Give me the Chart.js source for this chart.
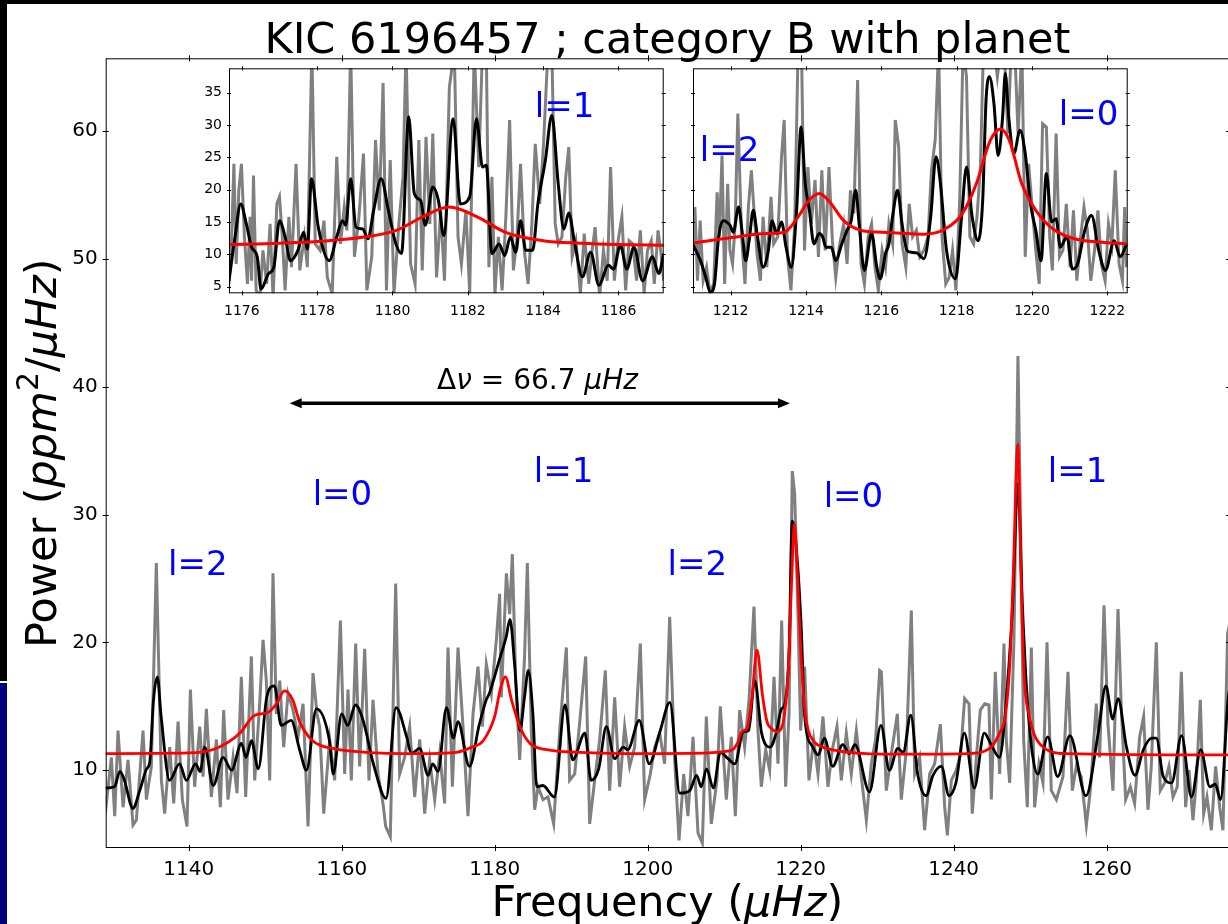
<!DOCTYPE html>
<html>
<head>
<meta charset="utf-8">
<script src="https://cdn.jsdelivr.net/npm/chart.js@4"></script>
<style>
html, body { margin: 0; padding: 0; background: #fff; overflow: hidden; width: 1228px; height: 924px; }
canvas { position: absolute; }
#main { left: 0; top: 0; }
#inset1 { left: 180px; top: 60px; }
#inset2 { left: 680px; top: 60px; }
.frame { position: absolute; z-index: 5; }
</style>
</head>
<body>
<canvas id="main" width="1232" height="924"></canvas>
<canvas id="inset1" width="500" height="268"></canvas>
<canvas id="inset2" width="470" height="268"></canvas>
<div class="frame" style="left:0;top:0;width:1228px;height:4px;background:#000"></div>
<div class="frame" style="left:0;top:0;width:7px;height:681px;background:#000"></div>
<div class="frame" style="left:0;top:683px;width:7px;height:241px;background:#00007f"></div>
<script>
// ---- data (frequency in uHz, power in ppm^2/uHz) ----
const chartTitle = 'KIC 6196457 ; category B with planet';
const mainXRange = [1129.15, 1276.0];
const mainYRange = [3.91, 65.7];
const mainXTicks = [1140, 1160, 1180, 1200, 1220, 1240, 1260];
const mainYTicks = [10, 20, 30, 40, 50, 60];

// raw power spectrum (grey)
const mainGray = [
  [1129.1,8.0],[1129.24,7.4],[1129.89,11.0],[1130.33,6.4],[1130.76,13.1],[1131.42,7.1],[1132.07,10.8],[1132.72,5.7],[1133.16,6.1],
  [1134.03,13.1],[1134.47,7.7],[1135.12,10.3],[1135.77,26.2],[1136.43,9.2],[1136.86,6.6],[1137.52,11.8],[1138.04,7.4],[1138.61,13.8],
  [1139.17,7.7],[1139.78,5.6],[1140.22,16.3],[1140.78,8.7],[1141.44,13.4],[1141.87,9.5],[1142.31,14.8],[1142.96,7.9],[1143.62,12.4],
  [1144.14,7.1],[1144.57,14.7],[1145.14,7.7],[1145.80,11.0],[1146.32,8.2],[1146.88,17.3],[1147.45,7.9],[1148.19,18.9],[1148.63,9.2],
  [1149.28,15.2],[1149.72,20.2],[1150.15,17.0],[1150.59,9.2],[1151.02,25.4],[1151.46,14.4],[1151.90,17.0],[1152.42,11.8],[1152.98,16.0],
  [1153.64,14.7],[1154.29,12.6],[1154.95,15.2],[1155.60,5.6],[1156.25,17.6],[1156.78,14.4],[1157.12,13.4],[1157.65,6.6],[1158.43,12.4],
  [1159.08,9.2],[1159.83,21.7],[1160.39,9.7],[1160.83,16.3],[1161.26,9.2],[1161.83,19.9],[1162.35,10.3],[1163.01,19.5],[1163.57,9.2],
  [1164.10,15.5],[1164.75,9.7],[1165.40,7.4],[1165.75,5.6],[1166.36,4.8],[1167.06,24.6],[1167.58,9.7],[1168.23,11.0],[1168.89,13.4],
  [1169.54,7.9],[1170.20,12.4],[1170.85,6.6],[1171.50,10.8],[1172.16,7.7],[1172.81,11.3],[1173.46,7.4],[1173.90,19.6],[1174.47,8.7],
  [1175.21,19.6],[1175.86,13.4],[1176.51,6.4],[1177.17,14.4],[1177.82,18.1],[1178.39,13.4],[1178.91,18.3],[1179.57,16.0],[1180.22,20.2],
  [1180.65,23.8],[1180.87,15.7],[1181.53,25.4],[1181.96,22.2],[1182.31,26.9],[1182.75,17.0],[1183.27,10.8],[1183.92,19.1],[1184.27,26.2],
  [1184.79,13.1],[1185.23,6.9],[1185.67,8.7],[1186.32,7.7],[1186.97,7.9],[1187.71,5.8],[1188.50,13.1],[1189.37,19.6],[1189.80,9.2],
  [1190.46,9.7],[1191.11,13.7],[1191.90,18.9],[1192.42,5.8],[1193.07,9.2],[1193.73,12.4],[1194.47,17.8],[1195.03,8.4],[1195.69,15.7],
  [1196.34,8.7],[1196.99,13.4],[1197.65,10.3],[1198.30,11.8],[1199.04,19.9],[1199.61,7.7],[1200.35,9.7],[1200.92,11.8],[1201.57,12.9],
  [1202.22,10.5],[1202.88,22.0],[1203.53,10.8],[1204.10,4.5],[1204.71,9.7],[1205.27,6.4],[1205.93,12.6],[1206.58,5.1],[1207.15,4.3],
  [1207.67,14.2],[1208.32,5.8],[1209.06,9.2],[1209.50,15.0],[1210.28,7.7],[1210.94,12.6],[1211.46,6.4],[1212.03,14.7],[1212.68,11.8],
  [1213.25,15.5],[1213.90,22.8],[1214.42,13.1],[1214.86,8.7],[1215.43,11.6],[1215.95,10.0],[1216.52,17.3],[1217.04,10.5],[1217.52,21.7],
  [1218.04,8.7],[1218.48,14.4],[1218.91,33.4],[1219.22,31.6],[1219.65,22.2],[1220.00,13.1],[1220.52,18.1],[1221.09,9.2],[1221.70,12.4],
  [1222.27,9.7],[1222.92,14.2],[1223.57,8.7],[1224.14,11.6],[1224.75,13.4],[1225.32,9.2],[1225.97,12.9],[1226.62,9.7],[1227.28,13.1],
  [1227.93,9.5],[1228.59,6.1],[1229.24,10.5],[1229.80,12.4],[1230.33,17.8],[1230.55,17.7],[1231.20,8.4],[1231.86,11.3],[1232.64,14.4],
  [1233.16,7.7],[1233.82,11.6],[1234.47,22.5],[1234.91,9.7],[1235.56,11.0],[1236.21,5.3],[1236.87,9.7],[1237.52,10.5],[1238.26,13.6],
  [1238.83,7.1],[1239.18,4.9],[1239.70,9.2],[1240.35,10.0],[1240.92,11.3],[1241.44,15.6],[1242.01,15.2],[1242.44,6.6],[1242.97,11.0],
  [1243.49,14.7],[1244.06,15.2],[1244.62,15.1],[1244.93,7.7],[1245.45,17.7],[1246.02,9.7],[1246.58,19.9],[1246.89,12.3],[1247.33,9.0],
  [1247.89,20.2],[1248.41,42.4],[1248.85,25.4],[1249.16,12.3],[1249.63,7.1],[1250.16,19.6],[1250.59,7.1],[1251.16,10.5],[1251.68,9.0],
  [1252.21,20.0],[1252.77,8.4],[1253.43,7.7],[1254.30,9.5],[1254.95,17.7],[1255.52,8.4],[1256.04,10.3],[1256.69,9.5],[1257.35,5.7],
  [1257.87,8.4],[1258.65,15.2],[1259.09,11.0],[1259.66,22.9],[1260.18,13.6],[1260.83,8.4],[1261.49,22.6],[1261.92,14.9],[1262.49,7.7],
  [1263.10,8.7],[1263.66,7.4],[1264.32,12.6],[1264.84,14.2],[1265.41,6.9],[1265.84,10.3],[1266.50,20.0],[1267.02,8.4],[1267.59,9.0],
  [1268.15,10.3],[1268.68,7.9],[1269.24,8.7],[1269.77,17.7],[1270.33,7.1],[1270.77,10.0],[1271.29,6.1],[1271.73,9.2],[1272.25,15.5],
  [1272.69,6.6],[1273.12,7.9],[1273.69,5.3],[1274.25,10.3],[1274.78,7.1],[1275.21,5.3],[1275.82,20.7],[1276.3,22.0]
];

// smoothed spectrum (black)
const mainSmooth = [
  [1129.1,8.6],[1130.3,8.7],[1131.0,9.9],[1131.6,9.2],[1132.7,7.0],[1133.6,8.4],[1134.5,10.1],[1134.9,10.6],[1135.4,15.5],[1135.9,17.3],
  [1136.4,14.2],[1137.5,9.2],[1138.8,10.5],[1139.7,9.2],[1140.9,10.5],[1141.5,9.9],[1142.1,11.8],[1143.2,8.8],[1144.5,11.0],[1145.6,10.0],
  [1146.9,12.1],[1147.5,11.0],[1148.2,12.3],[1149.1,10.1],[1150.2,15.7],[1151.2,16.6],[1152.1,13.5],[1153.4,13.9],[1154.5,11.6],[1155.4,10.0],
  [1156.7,14.8],[1158.4,12.3],[1158.9,9.7],[1160.0,14.4],[1160.8,13.5],[1161.8,15.1],[1162.8,13.9],[1164.1,10.6],[1165.8,7.8],[1167.1,14.9],
  [1168.5,12.6],[1169.1,11.3],[1170.2,11.7],[1171.3,9.6],[1171.9,10.5],[1172.6,9.9],[1173.7,14.9],[1174.6,12.5],[1175.2,13.8],[1176.7,10.3],
  [1178.0,13.6],[1178.9,15.5],[1179.3,16.0],[1180.7,18.8],[1181.5,20.4],[1182.0,21.8],[1182.6,18.3],[1183.3,13.1],[1183.9,15.7],[1184.4,17.8],
  [1185.0,14.4],[1185.5,8.7],[1186.3,8.8],[1187.8,7.9],[1189.2,15.1],[1190.2,10.8],[1191.8,12.9],[1192.6,9.2],[1193.6,10.1],[1194.6,13.4],
  [1195.7,10.9],[1196.8,11.8],[1197.4,11.6],[1198.9,13.9],[1200.2,10.5],[1201.6,13.0],[1202.9,15.3],[1204.2,8.2],[1205.5,8.4],[1206.4,9.6],
  [1207.0,8.7],[1207.7,10.1],[1208.6,8.6],[1209.5,11.4],[1210.5,10.9],[1211.4,10.5],[1212.5,13.0],[1213.2,13.1],[1214.0,17.0],[1214.9,12.9],
  [1216.0,11.8],[1216.8,12.9],[1217.5,14.8],[1217.9,15.1],[1218.5,19.6],[1218.9,29.5],[1219.5,26.9],[1220.1,20.9],[1220.5,14.4],[1221.6,11.8],
  [1222.3,11.2],[1223.1,12.5],[1224.2,10.3],[1225.5,12.0],[1226.4,11.3],[1227.1,12.0],[1229.0,8.3],[1230.5,13.5],[1231.6,10.0],[1232.7,11.7],
  [1233.4,11.4],[1234.4,14.3],[1235.3,9.7],[1236.4,8.0],[1237.3,9.6],[1238.4,10.3],[1239.4,8.0],[1240.3,9.0],[1241.4,12.9],[1242.7,8.6],
  [1244.0,12.9],[1244.9,12.0],[1246.0,11.0],[1246.8,14.9],[1247.7,22.8],[1248.4,32.4],[1249.0,22.8],[1249.7,14.9],[1251.0,9.7],[1252.3,12.6],
  [1253.6,9.5],[1255.2,12.7],[1257.3,8.0],[1258.9,12.9],[1259.9,16.6],[1260.8,14.0],[1261.5,15.6],[1262.6,11.8],[1263.7,9.6],[1264.8,11.6],
  [1265.9,12.5],[1266.5,12.5],[1267.4,9.5],[1268.5,9.0],[1269.8,12.7],[1271.1,7.9],[1272.3,11.6],[1273.5,8.7],[1274.2,8.9],[1274.9,7.7],
  [1275.9,15.7],[1276.3,17.0]
];

// fitted model (red)
const mainFit = [
  [1129.1,11.3],[1140.0,11.35],[1143.6,11.7],[1146.7,12.9],[1148.4,14.2],[1149.3,14.4],[1150.3,14.5],[1151.5,15.2],[1152.5,16.2],[1153.6,15.5],
  [1154.5,13.8],[1156.2,12.3],[1158.8,11.7],[1163.1,11.4],[1170.0,11.3],[1175.0,11.4],[1177.0,11.8],[1178.5,12.3],[1180.0,14.2],[1180.7,16.25],
  [1181.4,17.3],[1182.2,15.5],[1183.3,13.4],[1184.6,12.1],[1186.8,11.6],[1191.1,11.4],[1200.0,11.3],[1208.0,11.35],[1210.0,11.45],[1211.1,11.6],
  [1211.8,12.2],[1212.3,13.0],[1213.0,13.3],[1213.6,15.5],[1214.3,19.4],[1215.0,15.9],[1215.6,13.8],[1216.3,13.2],[1216.8,13.0],[1217.5,13.3],
  [1217.9,14.4],[1218.4,18.0],[1218.8,24.5],[1219.2,29.3],[1219.6,25.0],[1220.1,18.3],[1220.6,14.4],[1221.0,13.1],[1221.8,12.2],[1222.9,11.8],
  [1225.0,11.5],[1228.6,11.3],[1235.0,11.25],[1242.0,11.3],[1244.7,11.7],[1246.0,12.9],[1246.8,14.4],[1247.4,18.9],[1247.8,25.4],[1248.4,35.5],
  [1248.8,25.4],[1249.2,17.6],[1249.9,14.2],[1251.2,12.1],[1254.7,11.3],[1276.3,11.2]
];

const modeLabels = ['l=2', 'l=0', 'l=1', 'l=2', 'l=0', 'l=1'];
const modeLabelFreq = [1141.2, 1160.1, 1189.0, 1206.5, 1226.9, 1256.2];
const modeLabelPow = [26.25, 31.7, 33.5, 26.25, 31.6, 33.5];

const deltaNuEnds = [1153.2, 1218.6];
const deltaNuLevel = 38.7;
const deltaNuText = [1185.6, 40.6];

// insets
const insetYRange = [3.95, 38.8];
const insetYTicks = [5, 10, 15, 20, 25, 30, 35];
const inset1XRange = [1175.66, 1187.2];
const inset1XTicks = [1176, 1178, 1180, 1182, 1184, 1186];
const inset2XRange = [1211.0, 1222.54];
const inset2XTicks = [1212, 1214, 1216, 1218, 1220, 1222];

const inset1Gray = [
  [1175.66,5.4],[1175.73,12.7],[1175.79,24.0],[1175.85,8.5],[1175.92,19.9],[1175.99,24.0],[1176.07,12.7],[1176.15,5.4],[1176.22,15.8],
  [1176.26,5.9],[1176.31,22.2],[1176.38,4.4],[1176.48,3.3],[1176.56,10.6],[1176.66,5.4],[1176.75,14.7],[1176.83,3.3],[1176.93,17.8],
  [1177.00,18.9],[1177.07,13.2],[1177.15,4.4],[1177.25,15.8],[1177.32,8.0],[1177.44,24.0],[1177.54,7.5],[1177.66,12.7],[1177.74,8.0],
  [1177.86,42],[1177.95,11.6],[1178.08,10.6],[1178.18,15.2],[1178.27,6.4],[1178.40,3.9],[1178.52,25.1],[1178.62,11.6],[1178.72,17.3],
  [1178.79,13.7],[1178.89,42],[1178.99,9.6],[1179.11,15.8],[1179.23,25.6],[1179.32,4.4],[1179.45,9.6],[1179.55,27.7],[1179.65,16.8],
  [1179.75,36.5],[1179.84,4.4],[1179.94,24.6],[1180.04,3.9],[1180.17,14.7],[1180.28,22.0],[1180.36,42],[1180.48,8.5],[1180.60,5.4],
  [1180.70,27.7],[1180.79,7.5],[1180.89,28.2],[1180.99,14.7],[1181.07,28.7],[1181.17,6.4],[1181.28,16.8],[1181.38,5.9],[1181.51,35.9],
  [1181.56,38.0],[1181.64,42],[1181.74,12.7],[1181.83,8.5],[1181.95,16.8],[1182.05,3.9],[1182.17,42],[1182.29,23.5],[1182.39,42],
  [1182.49,42],[1182.56,8.0],[1182.64,22.0],[1182.72,3.9],[1182.81,12.7],[1182.91,4.4],[1183.01,15.8],[1183.11,30.8],[1183.21,7.5],
  [1183.30,12.1],[1183.40,24.0],[1183.50,10.6],[1183.60,5.4],[1183.70,14.7],[1183.79,27.1],[1183.91,17.8],[1184.01,27.1],[1184.13,42],
  [1184.23,42],[1184.32,14.7],[1184.40,11.6],[1184.50,12.7],[1184.60,22.0],[1184.68,26.6],[1184.77,9.6],[1184.87,12.1],[1184.99,3.9],
  [1185.09,13.2],[1185.21,5.4],[1185.30,10.6],[1185.38,14.2],[1185.50,3.3],[1185.60,10.6],[1185.70,5.9],[1185.79,23.5],[1185.89,5.9],
  [1185.99,12.1],[1186.09,15.8],[1186.19,4.4],[1186.28,12.1],[1186.38,11.6],[1186.48,5.9],[1186.58,13.7],[1186.68,3.9],[1186.77,10.6],
  [1186.87,12.1],[1186.95,5.4],[1187.05,13.7],[1187.13,10.1],[1187.20,5.9]
];
const inset1Smooth = [
  [1175.66,5.9],[1175.82,12.7],[1175.97,17.8],[1176.12,14.7],[1176.26,11.1],[1176.41,9.6],[1176.51,4.6],[1176.71,7.0],[1176.85,8.0],
  [1177.00,15.2],[1177.15,12.7],[1177.29,9.0],[1177.49,10.6],[1177.64,13.4],[1177.74,10.8],[1177.85,21.7],[1178.03,14.2],[1178.32,9.0],
  [1178.52,12.7],[1178.67,15.2],[1178.76,14.5],[1178.89,21.7],[1179.03,14.2],[1179.21,13.9],[1179.35,12.4],[1179.50,16.8],[1179.70,21.7],
  [1179.89,16.8],[1180.09,11.6],[1180.24,10.1],[1180.43,31.3],[1180.58,19.4],[1180.75,18.3],[1180.87,14.5],[1181.07,20.4],[1181.22,18.3],
  [1181.36,12.9],[1181.61,31.0],[1181.80,17.8],[1182.05,18.9],[1182.23,31.0],[1182.39,23.5],[1182.49,23.8],[1182.64,10.1],[1182.83,11.6],
  [1182.98,9.8],[1183.13,12.7],[1183.27,10.3],[1183.40,15.2],[1183.54,10.6],[1183.72,10.6],[1183.86,17.8],[1184.06,24.6],[1184.23,31.5],
  [1184.40,20.9],[1184.55,13.9],[1184.68,16.4],[1184.84,11.6],[1185.04,6.5],[1185.26,10.3],[1185.48,5.2],[1185.73,8.3],[1185.87,7.7],
  [1186.05,11.4],[1186.22,7.7],[1186.41,11.1],[1186.64,5.9],[1186.90,9.6],[1187.07,7.0],[1187.20,10.1]
];
const inset1Fit = [
  [1175.66,11.5],[1177.0,11.7],[1178.1,12.0],[1179.3,12.7],[1180.1,13.7],[1180.8,15.8],[1181.5,17.3],[1182.25,15.8],[1183.0,13.4],
  [1184.0,12.1],[1185.0,11.7],[1186.0,11.5],[1187.2,11.4]
];

const inset2Gray = [
  [1210.99,9.6],[1211.05,17.3],[1211.12,5.9],[1211.19,15.2],[1211.27,5.9],[1211.36,8.0],[1211.45,4.1],[1211.55,5.4],[1211.64,19.6],
  [1211.70,12.7],[1211.77,25.3],[1211.84,5.4],[1211.92,20.9],[1211.98,10.6],[1212.05,8.5],[1212.12,14.7],[1212.19,31.8],[1212.29,12.7],
  [1212.38,5.4],[1212.47,17.3],[1212.55,23.0],[1212.62,16.8],[1212.70,10.1],[1212.79,5.9],[1212.86,15.8],[1212.96,8.0],[1213.07,18.9],
  [1213.14,11.6],[1213.25,12.7],[1213.35,25.1],[1213.42,30.8],[1213.51,9.6],[1213.60,4.4],[1213.70,14.7],[1213.79,42],[1213.88,42],
  [1213.96,10.6],[1214.05,23.5],[1214.14,14.7],[1214.24,21.5],[1214.33,9.6],[1214.42,23.0],[1214.51,10.6],[1214.61,23.5],[1214.70,12.1],
  [1214.79,6.4],[1214.88,11.1],[1215.00,14.7],[1215.09,8.5],[1215.18,19.9],[1215.27,16.3],[1215.37,37.0],[1215.46,8.5],[1215.55,5.4],
  [1215.65,12.7],[1215.74,14.7],[1215.83,8.0],[1215.92,4.4],[1216.02,10.6],[1216.11,8.0],[1216.20,14.7],[1216.30,11.6],[1216.37,30.8],
  [1216.46,26.6],[1216.55,11.6],[1216.65,8.0],[1216.74,17.8],[1216.83,12.7],[1216.93,13.7],[1217.02,9.6],[1217.13,10.6],[1217.24,12.7],
  [1217.33,23.0],[1217.43,27.7],[1217.52,42],[1217.61,12.7],[1217.71,5.4],[1217.80,6.4],[1217.89,10.6],[1217.98,4.4],[1218.08,18.3],
  [1218.17,42],[1218.26,37.5],[1218.35,12.7],[1218.45,11.6],[1218.54,15.8],[1218.63,23.5],[1218.71,42],[1218.80,42],[1218.89,42],
  [1218.99,42],[1219.08,37.5],[1219.17,42],[1219.26,42],[1219.36,28.7],[1219.45,42],[1219.54,42],[1219.63,28.7],[1219.73,42],
  [1219.82,9.6],[1219.91,24.0],[1220.01,16.8],[1220.10,10.6],[1220.19,5.4],[1220.28,30.2],[1220.38,29.7],[1220.47,12.7],[1220.54,7.5],
  [1220.64,28.7],[1220.73,9.6],[1220.82,10.6],[1220.91,17.8],[1221.01,8.0],[1221.10,16.8],[1221.19,5.9],[1221.29,12.7],[1221.38,17.3],
  [1221.47,13.7],[1221.56,5.9],[1221.66,10.6],[1221.75,16.8],[1221.84,8.5],[1221.94,5.9],[1222.03,14.7],[1222.12,11.6],[1222.21,23.0],
  [1222.31,8.5],[1222.40,5.9],[1222.46,17.3],[1222.51,8.0]
];
const inset2Smooth = [
  [1210.99,11.6],[1211.20,9.0],[1211.34,6.4],[1211.46,4.1],[1211.57,5.4],[1211.68,12.7],[1211.80,15.2],[1211.98,14.5],[1212.07,13.4],
  [1212.21,17.3],[1212.30,13.7],[1212.40,9.0],[1212.49,12.1],[1212.60,16.8],[1212.70,13.2],[1212.86,8.0],[1213.00,10.6],[1213.10,15.2],
  [1213.22,13.2],[1213.35,15.0],[1213.47,11.1],[1213.61,8.0],[1213.75,16.8],[1213.87,29.7],[1213.98,20.9],[1214.09,16.8],[1214.21,11.6],
  [1214.35,13.2],[1214.44,12.7],[1214.53,11.1],[1214.67,11.1],[1214.79,9.0],[1214.95,11.6],[1215.09,13.7],[1215.20,15.2],[1215.32,19.9],
  [1215.41,14.7],[1215.55,7.5],[1215.74,13.2],[1215.88,8.0],[1215.97,6.2],[1216.11,10.1],[1216.20,11.6],[1216.31,16.3],[1216.43,19.9],
  [1216.55,14.7],[1216.68,10.6],[1216.80,10.3],[1216.94,10.2],[1217.13,9.3],[1217.31,15.8],[1217.45,25.1],[1217.57,20.9],[1217.73,10.6],
  [1217.97,6.2],[1218.13,15.8],[1218.26,23.5],[1218.41,15.8],[1218.57,12.1],[1218.69,18.3],[1218.78,33.9],[1218.87,37.5],[1218.99,33.3],
  [1219.10,25.3],[1219.22,31.3],[1219.29,38.0],[1219.38,31.3],[1219.52,25.6],[1219.68,29.2],[1219.82,25.6],[1219.96,17.8],[1220.10,13.7],
  [1220.24,9.0],[1220.38,22.5],[1220.52,15.0],[1220.64,15.5],[1220.75,11.1],[1220.93,12.7],[1221.07,7.7],[1221.21,8.5],[1221.40,13.7],
  [1221.58,16.0],[1221.77,10.6],[1221.95,7.5],[1222.18,12.1],[1222.34,9.6],[1222.51,11.6]
];
const inset2Fit = [
  [1210.99,11.7],[1212.03,12.6],[1212.96,13.2],[1213.42,13.4],[1213.79,15.8],[1214.07,18.3],[1214.35,19.4],[1214.63,18.1],[1215.0,15.2],
  [1215.46,13.7],[1216.02,13.4],[1216.67,13.2],[1217.13,13.1],[1217.69,13.9],[1218.15,16.3],[1218.52,20.9],[1218.89,27.6],[1219.17,29.4],
  [1219.40,27.6],[1219.73,20.9],[1220.10,16.8],[1220.56,13.9],[1221.12,12.4],[1221.77,11.9],[1222.51,11.6]
];

const inset1Labels = ['l=1'];
const inset1LabelPos = [[1184.57, 33.2]];
const inset2Labels = ['l=2', 'l=0'];
const inset2LabelPos = [[1211.97, 26.4], [1221.5, 32.0]];

// ---- drawing ----
const FONT = '"DejaVu Sans"';

const toXY = pts => pts.map(p => ({ x: p[0], y: p[1] }));

const lineSet = (pts, color, width, order, smooth) => ({
  data: toXY(pts),
  borderColor: color,
  borderWidth: width,
  pointRadius: 0,
  fill: false,
  order: order,
  clip: 0,
  tension: smooth ? 0.4 : 0,
  cubicInterpolationMode: smooth ? 'monotone' : 'default'
});

function axisX(range, ticks, height, size, pad) {
  return {
    type: 'linear', min: range[0], max: range[1],
    grid: { display: false, drawTicks: false }, border: { display: false },
    ticks: { autoSkip: false, maxRotation: 0, padding: pad, color: '#000', font: { family: FONT, size: size }, callback: v => String(v) },
    afterBuildTicks: s => { s.ticks = ticks.map(v => ({ value: v })); },
    afterFit: s => { s.height = height; s.paddingLeft = 0; s.paddingRight = 0; }
  };
}

function axisY(range, ticks, width, size, pad, show) {
  return {
    type: 'linear', min: range[0], max: range[1],
    grid: { display: false, drawTicks: false }, border: { display: false },
    ticks: { display: show, autoSkip: false, padding: pad, color: '#000', font: { family: FONT, size: size }, callback: v => String(v) },
    afterBuildTicks: s => { s.ticks = ticks.map(v => ({ value: v })); },
    afterFit: s => { s.width = width; s.paddingTop = 0; s.paddingBottom = 0; }
  };
}

// spines and in-out ticks on all four sides, like the matplotlib classic style
const boxTicks = {
  id: 'boxTicks',
  beforeDatasetsDraw(chart, args, o) {
    if (!o.fill) return;
    const a = chart.chartArea, ctx = chart.ctx;
    ctx.save();
    ctx.fillStyle = '#fff';
    ctx.fillRect(a.left, a.top, a.right - a.left, a.bottom - a.top);
    ctx.restore();
  },
  afterDatasetsDraw(chart, args, o) {
    const { ctx, chartArea: a, scales: { x, y } } = chart;
    const L = o.len || 3;
    ctx.save();
    ctx.strokeStyle = '#000';
    ctx.lineWidth = 1;
    ctx.strokeRect(a.left + 0.5, a.top + 0.5, a.right - a.left - 1, a.bottom - a.top - 1);
    ctx.beginPath();
    x.ticks.forEach(t => {
      const px = Math.round(x.getPixelForValue(t.value)) + 0.5;
      ctx.moveTo(px, a.bottom - L); ctx.lineTo(px, a.bottom + L);
      ctx.moveTo(px, a.top - L); ctx.lineTo(px, a.top + L);
    });
    y.ticks.forEach(t => {
      const py = Math.round(y.getPixelForValue(t.value)) + 0.5;
      ctx.moveTo(a.left - L, py); ctx.lineTo(a.left + L, py);
      ctx.moveTo(a.right - L, py); ctx.lineTo(a.right + L, py);
    });
    ctx.stroke();
    ctx.restore();
  }
};

// text made of normal / italic / superscript pieces (mathtext look)
function drawRuns(ctx, runs, cx, baseline, size) {
  const fontFor = st => (st === 'i' ? 'italic ' : '') + (st === 's' ? Math.round(size * 0.7) : size) + 'px ' + FONT;
  let w = 0;
  runs.forEach(([t, st]) => { ctx.font = fontFor(st); w += ctx.measureText(t).width; });
  let x = cx - w / 2;
  ctx.textAlign = 'left';
  ctx.textBaseline = 'alphabetic';
  runs.forEach(([t, st]) => {
    ctx.font = fontFor(st);
    ctx.fillText(t, x, baseline - (st === 's' ? size * 0.42 : 0));
    x += ctx.measureText(t).width;
  });
}

function blueLabels(chart, labels, pos, size) {
  const { ctx, scales: { x, y } } = chart;
  ctx.save();
  ctx.fillStyle = '#0000ff';
  ctx.font = size + 'px ' + FONT;
  ctx.textAlign = 'center';
  ctx.textBaseline = 'alphabetic';
  labels.forEach((t, i) => {
    ctx.fillText(t, x.getPixelForValue(pos[i][0]), y.getPixelForValue(pos[i][1]) + size * 0.365);
  });
  ctx.restore();
}

const mainNotes = {
  id: 'mainNotes',
  afterDraw(chart) {
    const { ctx, chartArea: a, scales: { x, y } } = chart;
    blueLabels(chart, modeLabels, modeLabels.map((_, i) => [modeLabelFreq[i], modeLabelPow[i]]), 34);

    // delta nu arrow
    const x0 = x.getPixelForValue(deltaNuEnds[0]), x1 = x.getPixelForValue(deltaNuEnds[1]);
    const py = y.getPixelForValue(deltaNuLevel);
    ctx.save();
    ctx.strokeStyle = '#000';
    ctx.fillStyle = '#000';
    ctx.lineWidth = 3.5;
    ctx.beginPath(); ctx.moveTo(x0 + 8, py); ctx.lineTo(x1 - 8, py); ctx.stroke();
    ctx.beginPath(); ctx.moveTo(x0, py); ctx.lineTo(x0 + 12, py - 5); ctx.lineTo(x0 + 12, py + 5); ctx.closePath(); ctx.fill();
    ctx.beginPath(); ctx.moveTo(x1, py); ctx.lineTo(x1 - 12, py - 5); ctx.lineTo(x1 - 12, py + 5); ctx.closePath(); ctx.fill();
    drawRuns(ctx, [['Δ', 'n'], ['ν', 'i'], [' = 66.7 ', 'n'], ['μHz', 'i']],
      x.getPixelForValue(deltaNuText[0]), y.getPixelForValue(deltaNuText[1]) + 28 * 0.365, 28);

    // title and axis labels, centred on the axes box
    const cx = (a.left + a.right) / 2;
    drawRuns(ctx, [[chartTitle, 'n']], cx, 52.5, 43);
    drawRuns(ctx, [['Frequency (', 'n'], ['μHz', 'i'], [')', 'n']], cx, 916, 43);
    ctx.translate(40, (a.top + a.bottom) / 2);
    ctx.rotate(-Math.PI / 2);
    drawRuns(ctx, [['Power (', 'n'], ['ppm', 'i'], ['2', 's'], ['/', 'n'], ['μHz', 'i'], [')', 'n']], 0, 43 * 0.365, 43);
    ctx.restore();
  }
};

new Chart(document.getElementById('main'), {
  type: 'line',
  data: {
    datasets: [
      lineSet(mainFit, '#ff0000', 2.8, 0, true),
      lineSet(mainSmooth, '#000000', 2.8, 1, true),
      lineSet(mainGray, '#808080', 3, 2, false)
    ]
  },
  options: {
    responsive: false,
    animation: false,
    events: [],
    layout: { padding: { left: 0, right: 3, top: 58.3, bottom: 0 } },
    scales: {
      x: axisX(mainXRange, mainXTicks, 76, 20, 10),
      y: axisY(mainYRange, mainYTicks, 105.7, 20, 8, true)
    },
    plugins: {
      legend: { display: false },
      tooltip: { enabled: false },
      title: { display: false },
      boxTicks: { len: 3 }
    }
  },
  plugins: [boxTicks, mainNotes]
});

function makeInset(id, gray, smooth, fit, xRange, xTicks, yWidth, showY, rightPad, labels, labelPos) {
  new Chart(document.getElementById(id), {
    type: 'line',
    data: {
      datasets: [
        lineSet(fit, '#ff0000', 3, 0, true),
        lineSet(smooth, '#000000', 3, 1, true),
        lineSet(gray, '#808080', 3, 2, false)
      ]
    },
    options: {
      responsive: false,
      animation: false,
      events: [],
      layout: { padding: { left: 0, right: rightPad, top: 8.3, bottom: 0 } },
      scales: {
        x: axisX(xRange, xTicks, 34.7, 14, 10),
        y: axisY(insetYRange, insetYTicks, yWidth, 14, 7, showY)
      },
      plugins: { legend: { display: false }, tooltip: { enabled: false }, boxTicks: { len: 2, fill: true } }
    },
    plugins: [boxTicks, { id: id + 'Notes', afterDraw: c => blueLabels(c, labels, labelPos, 34) }]
  });
}

makeInset('inset1', inset1Gray, inset1Smooth, inset1Fit, inset1XRange, inset1XTicks, 49, true, 16.3, inset1Labels, inset1LabelPos);
makeInset('inset2', inset2Gray, inset2Smooth, inset2Fit, inset2XRange, inset2XTicks, 13, false, 22.3, inset2Labels, inset2LabelPos);
</script>
</body>
</html>
